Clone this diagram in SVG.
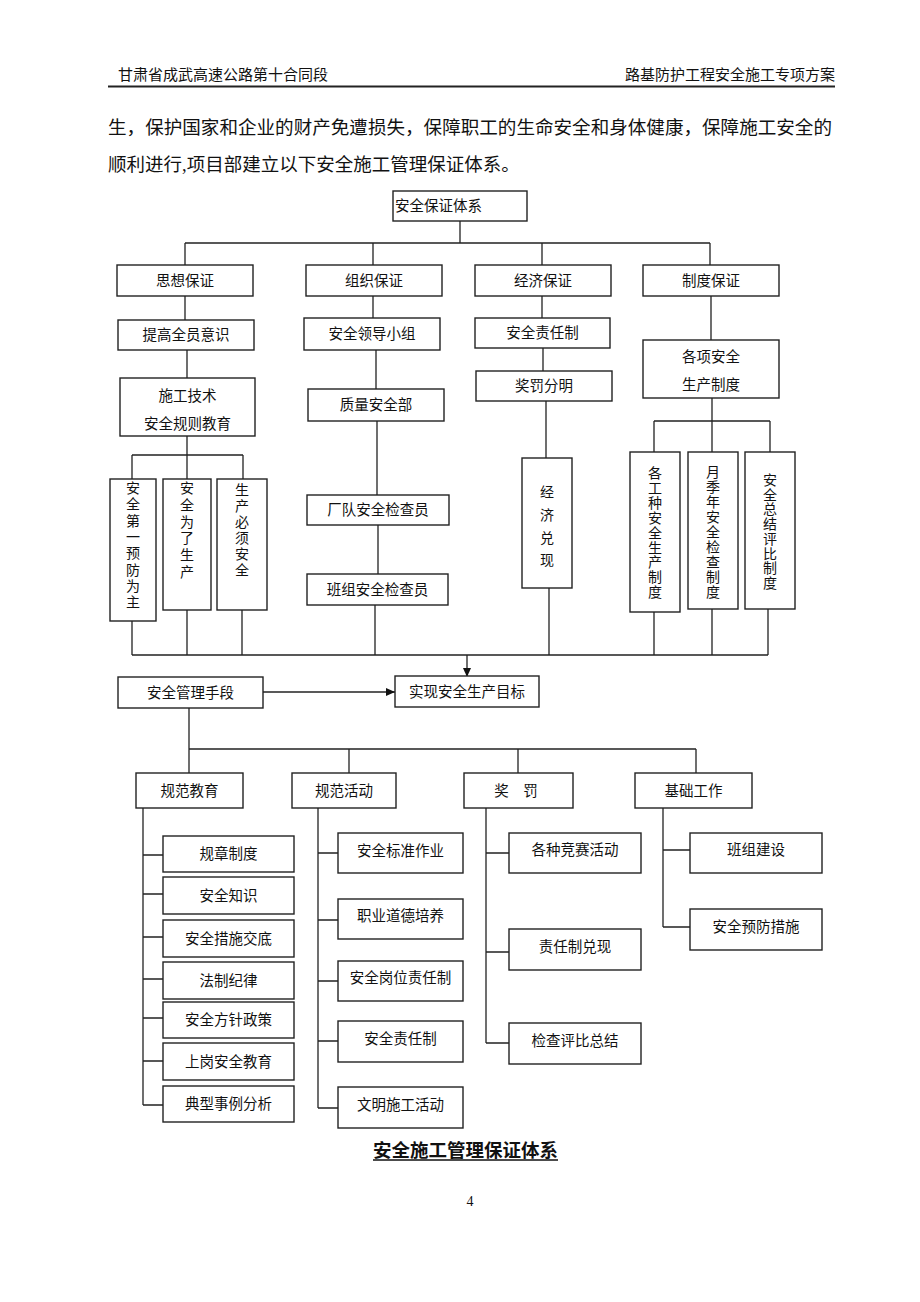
<svg xmlns="http://www.w3.org/2000/svg" width="920" height="1302" viewBox="0 0 920 1302">
<style>
.b{fill:#fff;stroke:#222;stroke-width:1.4}
.l{fill:none;stroke:#222;stroke-width:1.3}
.t{font-family:"Liberation Serif","Noto Sans CJK SC",serif;font-size:14.5px;fill:#111;text-anchor:middle;dominant-baseline:central}
.v{font-family:"Liberation Serif","Noto Sans CJK SC",serif;font-size:14px;fill:#111;text-anchor:middle;dominant-baseline:central}
.h{font-family:"Liberation Serif","Noto Sans CJK SC",serif;font-size:15px;fill:#111}
.p{font-family:"Liberation Serif","Noto Sans CJK SC",serif;font-size:18.5px;fill:#111}
</style>
<defs>
<marker id="ah" markerUnits="userSpaceOnUse" markerWidth="10" markerHeight="8" refX="9" refY="4" orient="auto">
<path d="M0,0 L9,4 L0,8 Z" fill="#111"/>
</marker>
</defs>
<rect width="920" height="1302" fill="#fff"/>
<g id="header">
<text class="h" x="118" y="80">甘肃省成武高速公路第十合同段</text>
<text class="h" x="835" y="80" text-anchor="end">路基防护工程安全施工专项方案</text>
<line x1="108" y1="86.5" x2="835" y2="86.5" stroke="#222" stroke-width="2"/>
<text class="p" x="108" y="134" textLength="724" lengthAdjust="spacingAndGlyphs">生，保护国家和企业的财产免遭损失，保障职工的生命安全和身体健康，保障施工安全的</text>
<text class="p" x="108" y="171">顺利进行,项目部建立以下安全施工管理保证体系。</text>
</g>
<g id="connectors">
<path class="l" d="M460 221V243M185 243H710M185 243V265M373 243V265M542 243V265M710 243V265"/>
<path class="l" d="M185 296V320M187 350V378M187 436V479M132 455H243M132 455V479M243 455V479"/>
<path class="l" d="M373 296V318M376 350V389M377 421V495M378 525V574M375 605V655"/>
<path class="l" d="M542 296V318M543 348V371M546 401V458M549 588V655"/>
<path class="l" d="M711 296V340M712 398V452M654 421H770M654 421V452M770 421V452"/>
<path class="l" d="M132 621V655M187 610V655M242 610V655M654 612V655M712 609V655M768 609V655M132 655H768"/>
<path class="l" d="M467 655V677" marker-end="url(#ah)"/>
<path class="l" d="M263 692H395" marker-end="url(#ah)"/>
<path class="l" d="M189 708V773M189 749H696M349 749V773M518 749V773M696 749V773"/>
<path class="l" d="M143 808V1105M143 855H163M143 894H163M143 937H163M143 979H163M143 1018H163M143 1061H163M143 1105H163"/>
<path class="l" d="M318 808V1108M318 853H338M318 920H338M318 981H338M318 1041H338M318 1108H338"/>
<path class="l" d="M486 808V1043M486 853H509M486 952H509M486 1043H509"/>
<path class="l" d="M663 808V927M663 850H690M663 927H690"/>
</g>
<g id="n_root"><rect class="b" x="393" y="191" width="134" height="30"/><text class="t" x="395" y="206" text-anchor="start" style="text-anchor:start">安全保证体系</text></g>
<g id="n_sixiang"><rect class="b" x="117" y="265" width="136" height="31"/><text class="t" x="185" y="280.5">思想保证</text></g>
<g id="n_zuzhi"><rect class="b" x="306" y="265" width="136" height="31"/><text class="t" x="374" y="280.5">组织保证</text></g>
<g id="n_jingji"><rect class="b" x="475" y="265" width="136" height="31"/><text class="t" x="543" y="280.5">经济保证</text></g>
<g id="n_zhidu"><rect class="b" x="643" y="265" width="136" height="31"/><text class="t" x="711" y="280.5">制度保证</text></g>
<g id="n_tigao"><rect class="b" x="118" y="320" width="136" height="30"/><text class="t" x="186" y="335">提高全员意识</text></g>
<g id="n_lingdao"><rect class="b" x="304" y="318" width="136" height="32"/><text class="t" x="372" y="334">安全领导小组</text></g>
<g id="n_zerenzhi"><rect class="b" x="475" y="318" width="135" height="30"/><text class="t" x="542.5" y="333">安全责任制</text></g>
<g id="n_gexiang"><rect class="b" x="643" y="340" width="136" height="58"/><text class="t" x="711" y="357">各项安全</text><text class="t" x="711" y="385">生产制度</text></g>
<g id="n_shigong"><rect class="b" x="120" y="378" width="135" height="58"/><text class="t" x="187.5" y="396">施工技术</text><text class="t" x="187.5" y="424">安全规则教育</text></g>
<g id="n_zhiliang"><rect class="b" x="308" y="389" width="136" height="32"/><text class="t" x="376" y="405">质量安全部</text></g>
<g id="n_jiangfa_fm"><rect class="b" x="476" y="371" width="136" height="30"/><text class="t" x="544" y="386">奖罚分明</text></g>
<g id="n_v1"><rect class="b" x="110" y="479" width="46" height="142"/><text class="v"><tspan x="133" y="488">安</tspan><tspan x="133" y="504.3">全</tspan><tspan x="133" y="520.6">第</tspan><tspan x="133" y="536.9">一</tspan><tspan x="133" y="553.2">预</tspan><tspan x="133" y="569.5">防</tspan><tspan x="133" y="585.8">为</tspan><tspan x="133" y="602">主</tspan></text></g>
<g id="n_v2"><rect class="b" x="163" y="479" width="48" height="131"/><text class="v"><tspan x="187" y="488">安</tspan><tspan x="187" y="504.8">全</tspan><tspan x="187" y="521.6">为</tspan><tspan x="187" y="538.4">了</tspan><tspan x="187" y="555.2">生</tspan><tspan x="187" y="572">产</tspan></text></g>
<g id="n_v3"><rect class="b" x="217" y="479" width="50" height="131"/><text class="v"><tspan x="242" y="490">生</tspan><tspan x="242" y="506">产</tspan><tspan x="242" y="522">必</tspan><tspan x="242" y="538">须</tspan><tspan x="242" y="554">安</tspan><tspan x="242" y="570">全</tspan></text></g>
<g id="n_changdui"><rect class="b" x="307" y="495" width="142" height="30"/><text class="t" x="378" y="510">厂队安全检查员</text></g>
<g id="n_banzu_j"><rect class="b" x="307" y="574" width="141" height="31"/><text class="t" x="377.5" y="589.5">班组安全检查员</text></g>
<g id="n_duixian"><rect class="b" x="522" y="458" width="50" height="130"/><text class="v"><tspan x="547" y="492">经</tspan><tspan x="547" y="515">济</tspan><tspan x="547" y="538">兑</tspan><tspan x="547" y="560">现</tspan></text></g>
<g id="n_v4"><rect class="b" x="630" y="452" width="50" height="160"/><text class="v"><tspan x="655" y="473">各</tspan><tspan x="655" y="487.9">工</tspan><tspan x="655" y="502.8">种</tspan><tspan x="655" y="517.7">安</tspan><tspan x="655" y="532.6">全</tspan><tspan x="655" y="547.5">生</tspan><tspan x="655" y="562.4">产</tspan><tspan x="655" y="577.3">制</tspan><tspan x="655" y="592">度</tspan></text></g>
<g id="n_v5"><rect class="b" x="688" y="452" width="50" height="157"/><text class="v"><tspan x="713" y="472">月</tspan><tspan x="713" y="487">季</tspan><tspan x="713" y="502">年</tspan><tspan x="713" y="517">安</tspan><tspan x="713" y="532">全</tspan><tspan x="713" y="547">检</tspan><tspan x="713" y="562">查</tspan><tspan x="713" y="577">制</tspan><tspan x="713" y="592">度</tspan></text></g>
<g id="n_v6"><rect class="b" x="745" y="452" width="50" height="157"/><text class="v"><tspan x="770" y="480">安</tspan><tspan x="770" y="494.7">全</tspan><tspan x="770" y="509.4">总</tspan><tspan x="770" y="524.1">结</tspan><tspan x="770" y="538.8">评</tspan><tspan x="770" y="553.5">比</tspan><tspan x="770" y="568.2">制</tspan><tspan x="770" y="583">度</tspan></text></g>
<g id="n_shouduan"><rect class="b" x="118" y="677" width="145" height="31"/><text class="t" x="190.5" y="692.5">安全管理手段</text></g>
<g id="n_mubiao"><rect class="b" x="395" y="676" width="144" height="31"/><text class="t" x="467" y="691.5">实现安全生产目标</text></g>
<g id="n_gfjy"><rect class="b" x="136" y="773" width="107" height="35"/><text class="t" x="189.5" y="790.5">规范教育</text></g>
<g id="n_gfhd"><rect class="b" x="292" y="773" width="104" height="35"/><text class="t" x="344" y="790.5">规范活动</text></g>
<g id="n_jf"><rect class="b" x="464" y="773" width="109" height="35"/><text class="t" x="516" y="790.5">奖　罚</text></g>
<g id="n_jcgz"><rect class="b" x="635" y="773" width="117" height="35"/><text class="t" x="693.5" y="790.5">基础工作</text></g>
<g id="n_e1"><rect class="b" x="163" y="836" width="131" height="36"/><text class="t" x="228.5" y="854">规章制度</text></g>
<g id="n_e2"><rect class="b" x="163" y="877" width="131" height="37"/><text class="t" x="228.5" y="895.5">安全知识</text></g>
<g id="n_e3"><rect class="b" x="163" y="920" width="131" height="37"/><text class="t" x="228.5" y="938.5">安全措施交底</text></g>
<g id="n_e4"><rect class="b" x="163" y="962" width="131" height="37"/><text class="t" x="228.5" y="980.5">法制纪律</text></g>
<g id="n_e5"><rect class="b" x="163" y="1002" width="131" height="36"/><text class="t" x="228.5" y="1020">安全方针政策</text></g>
<g id="n_e6"><rect class="b" x="163" y="1043" width="131" height="37"/><text class="t" x="228.5" y="1061.5">上岗安全教育</text></g>
<g id="n_e7"><rect class="b" x="163" y="1086" width="131" height="36"/><text class="t" x="228.5" y="1104">典型事例分析</text></g>
<g id="n_a1"><rect class="b" x="338" y="833" width="125" height="40"/><text class="t" x="400.5" y="851">安全标准作业</text></g>
<g id="n_a2"><rect class="b" x="338" y="899" width="125" height="40"/><text class="t" x="400.5" y="916">职业道德培养</text></g>
<g id="n_a3"><rect class="b" x="338" y="961" width="125" height="40"/><text class="t" x="400.5" y="978">安全岗位责任制</text></g>
<g id="n_a4"><rect class="b" x="338" y="1021" width="125" height="41"/><text class="t" x="400.5" y="1039">安全责任制</text></g>
<g id="n_a5"><rect class="b" x="338" y="1087" width="125" height="41"/><text class="t" x="400.5" y="1105">文明施工活动</text></g>
<g id="n_r1"><rect class="b" x="509" y="833" width="132" height="40"/><text class="t" x="575" y="850">各种竞赛活动</text></g>
<g id="n_r2"><rect class="b" x="509" y="929" width="132" height="41"/><text class="t" x="575" y="947">责任制兑现</text></g>
<g id="n_r3"><rect class="b" x="509" y="1023" width="132" height="41"/><text class="t" x="575" y="1041">检查评比总结</text></g>
<g id="n_j1"><rect class="b" x="690" y="833" width="132" height="40"/><text class="t" x="756" y="850">班组建设</text></g>
<g id="n_j2"><rect class="b" x="690" y="909" width="132" height="41"/><text class="t" x="756" y="927">安全预防措施</text></g>
<g id="caption">
<text x="465.5" y="1157" text-anchor="middle" style="font-family:'Liberation Serif','Noto Sans CJK SC',serif;font-size:18.5px;font-weight:bold;fill:#111">安全施工管理保证体系</text>
<line x1="373" y1="1160" x2="558" y2="1160" stroke="#111" stroke-width="1.5"/>
<text x="470" y="1206" text-anchor="middle" style="font-family:'Liberation Serif',serif;font-size:14px;fill:#111">4</text>
</g>
</svg>
